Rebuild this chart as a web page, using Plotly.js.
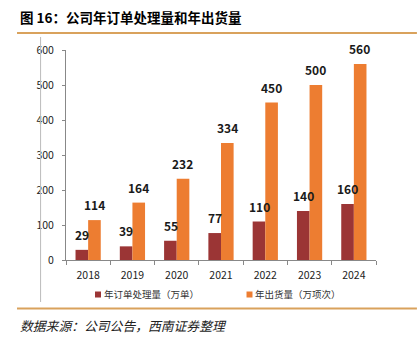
<!DOCTYPE html>
<html>
<head>
<meta charset="utf-8">
<script src="https://cdn.plot.ly/plotly-3.0.1.min.js"></script>
<style>html,body{margin:0;padding:0;background:#fff;}#chart{width:418px;height:342px;}</style>
</head>
<body>
<div id="chart"></div>
<script>
const years = ['2018','2019','2020','2021','2022','2023','2024'];
const orders = [29, 39, 55, 77, 110, 140, 160];
const shipments = [114, 164, 232, 334, 450, 500, 560];
const seriesNames = ['年订单处理量（万单）', '年出货量（万项次）'];
const titleText = '图 16：公司年订单处理量和年出货量';
const sourceText = '数据来源：公司公告，西南证券整理';

const FONT = '"Noto Sans CJK SC", "Noto Sans", sans-serif';
const RED = '#9B3535';
const ORANGE = '#ED7D31';
const colors = [RED, ORANGE];

const traces = [
  {type:'bar', x: years, y: orders, name: seriesNames[0], marker:{color: RED}, showlegend:false},
  {type:'bar', x: years, y: shipments, name: seriesNames[1], marker:{color: ORANGE}, showlegend:false}
];

const annotations = [];
years.forEach((yr, i) => {
  annotations.push({x: i, y: orders[i], xref:'x', yref:'y', text: String(orders[i]), showarrow:false,
    yanchor:'bottom', xshift:-6, yshift:5, font:{family:FONT, size:12, color:'#1a1a1a', weight:'bold'}});
  annotations.push({x: i, y: shipments[i], xref:'x', yref:'y', text: String(shipments[i]), showarrow:false,
    yanchor:'bottom', xshift:6, yshift:5, font:{family:FONT, size:12, color:'#1a1a1a', weight:'bold'}});
});
annotations.push({xref:'paper', yref:'paper', x:-0.155, y:1.157, xanchor:'left', yanchor:'middle',
  text:'<b>'+titleText+'</b>', showarrow:false, font:{family:FONT, size:13.5, color:'#000'}});
annotations.push({xref:'paper', yref:'paper', x:-0.155, y:-0.31, xanchor:'left', yanchor:'middle',
  text:'<i>'+sourceText+'</i>', showarrow:false, font:{family:FONT, size:12.8, color:'#222'}});

// custom legend
const legX = [0.116, 0.603];
const legSq = [[0.0935, 0.1129], [0.5823, 0.6016]];
const shapes = [
  {type:'line', xref:'paper', yref:'paper', x0:-0.158, x1:1.132, y0:1.081, y1:1.081, line:{color:'#D9A25C', width:2}},
  {type:'line', xref:'paper', yref:'paper', x0:-0.158, x1:1.132, y0:-0.231, y1:-0.231, line:{color:'#D9A25C', width:2}},
  {type:'line', xref:'paper', yref:'paper', x0:-0.082, x1:-0.082, y0:1.062, y1:-0.2, line:{color:'#BBBBBB', width:1}}
];
seriesNames.forEach((nm, k) => {
  annotations.push({xref:'paper', yref:'paper', x:legX[k], y:-0.164, xanchor:'left', yanchor:'middle',
    text:nm, showarrow:false, font:{family:FONT, size:9.5, color:'#333'}});
  shapes.push({type:'rect', xref:'paper', yref:'paper', x0:legSq[k][0], x1:legSq[k][1], y0:-0.1786, y1:-0.15,
    fillcolor:colors[k], line:{width:0}});
});

const layout = {
  width:418, height:342,
  margin:{l:66, r:42, t:50, b:82},
  paper_bgcolor:'#fff', plot_bgcolor:'#fff',
  font:{family:FONT, size:10, color:'#222'},
  barmode:'group', bargap:0.43, bargroupgap:0,
  showlegend:false,
  xaxis:{type:'category', range:[-0.5, 6.5], showline:true, linecolor:'#888', linewidth:1, ticks:'outside', ticklen:4,
    tickcolor:'#888', tickson:'boundaries', showgrid:false, zeroline:false, tickfont:{size:10.5, color:'#222'},
    ticklabelstandoff:5},
  yaxis:{range:[0,600], dtick:100, showline:true, linecolor:'#888', linewidth:1, ticks:'outside', ticklen:3,
    tickcolor:'#888', showgrid:false, zeroline:false, tickfont:{size:10.5, color:'#222'}, ticklabelstandoff:6},
  annotations: annotations,
  shapes: shapes
};

Plotly.newPlot('chart', traces, layout, {displayModeBar:false, staticPlot:true});
</script>
</body>
</html>
